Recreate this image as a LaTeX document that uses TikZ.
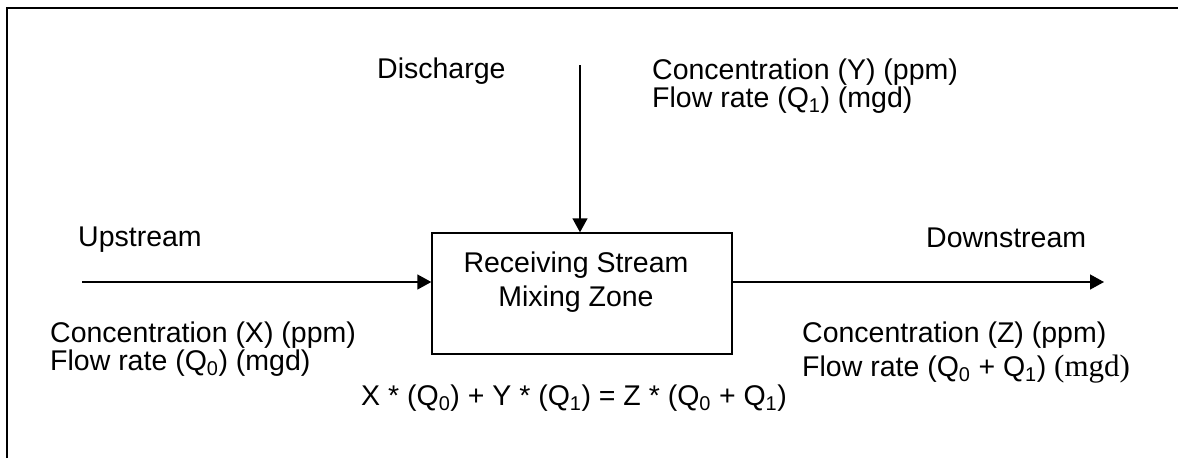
\documentclass[tikz,border=0pt]{standalone}
\usepackage{fontspec}
\setmainfont{Liberation Sans}
\newfontfamily\timesfont{Liberation Serif}
\usetikzlibrary{arrows.meta, positioning, calc}

\begin{document}
\begin{tikzpicture}[
    x=1pt, y=-1pt,
    flow/.style={-{Triangle[length=14pt, width=15pt]}, line width=1.4pt},
    zone/.style={draw, line width=1.4pt, minimum width=300pt, minimum height=121pt, inner sep=0pt},
    lbl/.style={inner sep=0pt, anchor=base west, align=left, font=\fontsize{28.5}{#1}\selectfont},
    lbl/.default=28pt
]
    \useasboundingbox (0,0) rectangle (1178,458);

    % Frame
    \draw[line width=1.6pt] (7,458) -- (7,8) -- (1178,8);

    % Mixing zone box (text sits on the baseline of its last line)
    \node[zone] (mix) at (582,293.5) {};
    \node[lbl=34pt, anchor=base, align=center] (mixtxt) at (576,306)
        {Receiving Stream\\Mixing Zone};

    % End points of the streams
    \coordinate (upin) at (82,282);
    \coordinate (downout) at (1104,282);
    \coordinate (disin) at (580,65);

    % Arrows
    \draw[flow] (upin) -- (upin -| mix.west);
    \draw[flow] (mix.east |- downout) -- (downout);
    \draw[flow] (disin) -- (disin |- mix.north);

    % Discharge
    \node[lbl] (dis) at (377,78) {Discharge};
    \node[lbl] (disval) at (652,107)
        {Concentration (Y) (ppm)\\Flow rate (Q\textsubscript{1}) (mgd)};

    % Upstream
    \node[lbl] (up) at (78,246) {Upstream};
    \node[lbl] (upval) at (50,370)
        {Concentration (X) (ppm)\\Flow rate (Q\textsubscript{0}) (mgd)};

    % Downstream
    \node[lbl] (down) at (926,247) {Downstream};
    \node[lbl=34pt] (downval) at (802,376)
        {Concentration (Z) (ppm)\\Flow rate (Q\textsubscript{0} + Q\textsubscript{1}) {\timesfont\fontsize{31}{34}\selectfont(mgd)}};

    % Mass balance
    \node[lbl, anchor=base] (balance) at (574,405)
        {X * (Q\textsubscript{0}) + Y * (Q\textsubscript{1}) = Z * (Q\textsubscript{0} + Q\textsubscript{1})};
\end{tikzpicture}
\end{document}
